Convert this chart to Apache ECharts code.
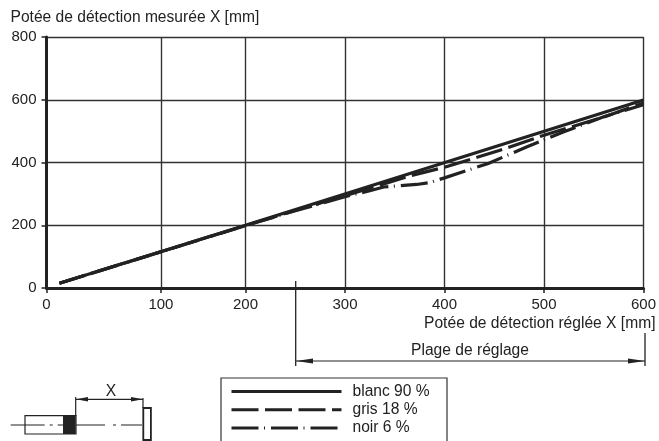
<!DOCTYPE html>
<html>
<head>
<meta charset="utf-8">
<style>html,body{margin:0;padding:0;background:#fff}#c{width:659px;height:441px}</style>
<script src="https://cdn.jsdelivr.net/npm/echarts@6/dist/echarts.min.js"></script>
</head>
<body>
<div id="c"></div>
<script>
const xTickPositions = [0, 115, 200, 300, 400, 500, 600];
const xTickLabels = ['0', '100', '200', '300', '400', '500', '600'];
const yTicks = [0, 200, 400, 600, 800];
const blanc = [[13, 15], [200, 200], [600, 599]];
const gris = [[13, 15], [200, 199], [250, 247], [300, 294], [366, 358], [400, 385], [455, 438], [500, 487], [560, 545], [600, 590]];
const noir = [[13, 15], [200, 199], [250, 246], [300, 291], [324, 309], [339, 322], [372, 330], [385, 336], [400, 351], [444, 397], [483, 450], [520, 498], [560, 546], [600, 584]];
const ink = '#222';
const font = '"Liberation Sans", Arial, sans-serif';

function seg(x1, y1, x2, y2, w, dash) {
  return {type: 'line', shape: {x1, y1, x2, y2}, style: {stroke: ink, lineWidth: w || 1.2, lineDash: dash}, silent: true};
}
function tri(points) {
  return {type: 'polygon', shape: {points}, style: {fill: ink}, silent: true};
}
const graphics = [
  seg(295.7, 281, 295.7, 366, 1.3),
  seg(645, 333, 645, 366, 1.3),
  seg(296, 361, 645, 361, 1.2),
  tri([[296, 361], [313, 358.5], [313, 363.5]]),
  tri([[645, 361], [628, 358.5], [628, 363.5]]),
  {type: 'text', style: {x: 470, y: 351, text: 'Plage de réglage', font: '15.6px ' + font, fill: ink, align: 'center', verticalAlign: 'middle'}, silent: true},
  {type: 'rect', shape: {x: 221, y: 378, width: 226, height: 80}, style: {fill: '#fff', stroke: '#333', lineWidth: 1.2}, silent: true, z: -1},
  {type: 'rect', shape: {x: 25, y: 415.7, width: 51, height: 18.3}, style: {fill: '#fff', stroke: ink, lineWidth: 1.2}, silent: true},
  {type: 'rect', shape: {x: 63, y: 415.7, width: 12.7, height: 18.3}, style: {fill: ink}, silent: true},
  seg(10.7, 425, 63, 425, 1.2, [34, 5, 3, 5, 7, 100]),
  seg(76, 425, 142, 425, 1.2, [29, 8, 3, 5, 21, 100]),
  {type: 'rect', shape: {x: 143.3, y: 408, width: 7.6, height: 32}, style: {fill: '#fff', stroke: ink, lineWidth: 1.8}, silent: true},
  seg(75.7, 397, 75.7, 416, 1.2),
  seg(143, 398, 143, 408, 1.2),
  seg(76, 399.3, 143, 399.3, 1.2),
  tri([[76, 399.3], [88, 397], [88, 401.6]]),
  tri([[143, 399.3], [131, 397], [131, 401.6]]),
  {type: 'text', style: {x: 111, y: 391.5, text: 'X', font: '15.6px ' + font, fill: ink, align: 'center', verticalAlign: 'middle'}, silent: true}
];

const chart = echarts.init(document.getElementById('c'), null, {renderer: 'canvas'});
chart.setOption({
  animation: false,
  backgroundColor: '#fff',
  textStyle: {fontFamily: font},
  grid: {left: 46.5, top: 37, width: 599, height: 251, containLabel: false},
  xAxis: {
    type: 'value', min: 0, max: 600,
    name: 'Potée de détection réglée X [mm]',
    nameLocation: 'end', nameMoveOverlap: false, nameGap: 12,
    nameTextStyle: {fontSize: 15.6, color: ink, align: 'right', verticalAlign: 'top', padding: [28, 0, 0, 0]},
    axisLine: {show: true, onZero: false, lineStyle: {color: ink, width: 3}},
    axisTick: {show: true, length: 5, customValues: xTickPositions, lineStyle: {color: ink, width: 1.5}},
    splitLine: {show: true, lineStyle: {color: '#333', width: 1.4}},
    axisLabel: {customValues: xTickPositions, margin: 9, fontSize: 15, color: ink, hideOverlap: false, showMinLabel: true, showMaxLabel: true, formatter: v => xTickLabels[xTickPositions.indexOf(v)]}
  },
  yAxis: {
    type: 'value', min: 0, max: 800, interval: 200,
    name: 'Potée de détection mesurée X [mm]',
    nameLocation: 'end', nameMoveOverlap: false, nameGap: 11,
    nameTextStyle: {fontSize: 15.6, color: ink, align: 'left', padding: [0, 0, 0, -36]},
    axisLine: {show: true, onZero: false, lineStyle: {color: ink, width: 3}},
    axisTick: {show: true, length: 5, lineStyle: {color: ink, width: 1.5}},
    splitLine: {show: true, lineStyle: {color: '#333', width: 1.4}},
    axisLabel: {margin: 10, fontSize: 15, color: ink, formatter: v => yTicks.includes(v) ? String(v) : ''}
  },
  legend: {
    show: true, orient: 'vertical', left: 230, top: 383.5, height: 60,
    padding: 0, itemWidth: 110, itemHeight: 14, itemGap: 2.2,
    itemStyle: {color: 'rgba(0,0,0,0)', borderWidth: 0, opacity: 0},
    lineStyle: {width: 3},
    textStyle: {fontSize: 15.6, color: ink, padding: [0, 0, 0, 6]},
    selectedMode: false,
    data: ['blanc 90 %', 'gris 18 %', 'noir 6 %']
  },
  series: [
    {name: 'blanc 90 %', type: 'line', data: blanc, showSymbol: false, symbol: 'none', lineStyle: {color: ink, width: 3.2}, itemStyle: {color: ink}, z: 3},
    {name: 'gris 18 %', type: 'line', data: gris, showSymbol: false, symbol: 'none', lineStyle: {color: ink, width: 3.2, type: [27, 6.5]}, itemStyle: {color: ink}, z: 3},
    {name: 'noir 6 %', type: 'line', data: noir, showSymbol: false, symbol: 'none', lineStyle: {color: ink, width: 3.2, type: [27, 5.5, 1, 6]}, itemStyle: {color: ink}, z: 3}
  ],
  graphic: graphics
});
</script>
</body>
</html>
